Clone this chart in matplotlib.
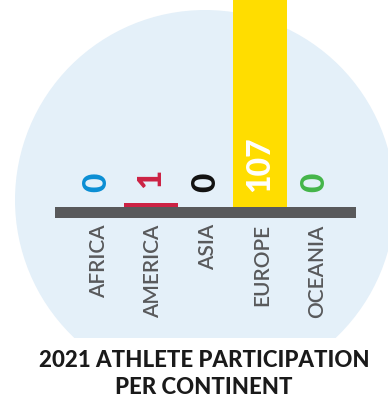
import matplotlib.pyplot as plt
from matplotlib.patches import Circle, Rectangle

continents = ["AFRICA", "AMERICA", "ASIA", "EUROPE", "OCEANIA"]
athletes = [0, 1, 0, 107, 0]
colors = ["#0a8ed4", "#cc2244", "#111111", "#ffdd00", "#44b549"]

title = "2021 ATHLETE PARTICIPATION\nPER CONTINENT"

W, H = 388, 403
fig = plt.figure(figsize=(W / 100, H / 100), dpi=100)

# background circle, pixel coordinates
bg = fig.add_axes([0, 0, 1, 1])
bg.set_xlim(0, W)
bg.set_ylim(H, 0)
bg.axis("off")
clip = Rectangle((0, 0), W, 338, transform=bg.transData)
circ = Circle((205, 200), 190, facecolor="#e4f0f9", edgecolor="none")
bg.add_patch(circ)
circ.set_clip_path(clip)

# bar axes: x = category index, y = athletes (4 px per athlete)
ax = fig.add_axes([0, 0, 1, 1])
ax.patch.set_alpha(0)
ax.axis("off")
x0, dx = 96.5, 54.5
ax.set_xlim(-x0 / dx, (W - x0) / dx)
zero = H - 207
ax.set_ylim(-zero / 4, (H - zero) / 4)
top = (H - zero) / 4

idx = list(range(len(continents)))
ax.bar(idx, athletes, width=1.0, color=colors, zorder=2)
ax.add_patch(Rectangle((-0.76, -2.75), len(idx) - 1 + 1.52, 2.75,
                       facecolor="#58595b", edgecolor="none", zorder=3))

for i, (name, v, c) in enumerate(zip(continents, athletes, colors)):
    if v > top:
        ax.text(i, 10.8, str(v), rotation=90, ha="center", va="center",
                fontsize=23, fontweight="black", family="Lato", color="white", zorder=4)
    else:
        ax.text(i, v + 6.2, str(v), rotation=90, ha="center", va="center",
                fontsize=24, fontweight="black", family="Lato", color=c, zorder=4)
    ax.text(i + 0.04, -4.3, name, rotation=90, ha="center", va="top",
            fontsize=15, fontweight="semibold", family="Lato", color="#58595b", zorder=4)

fig.text(0.526, 1 - 374 / H, title, ha="center", va="center", fontsize=16,
         fontweight="black", family="Lato", color="#1a1a1a", linespacing=1.3)

fig.savefig("out.png", dpi=100, facecolor="white")
